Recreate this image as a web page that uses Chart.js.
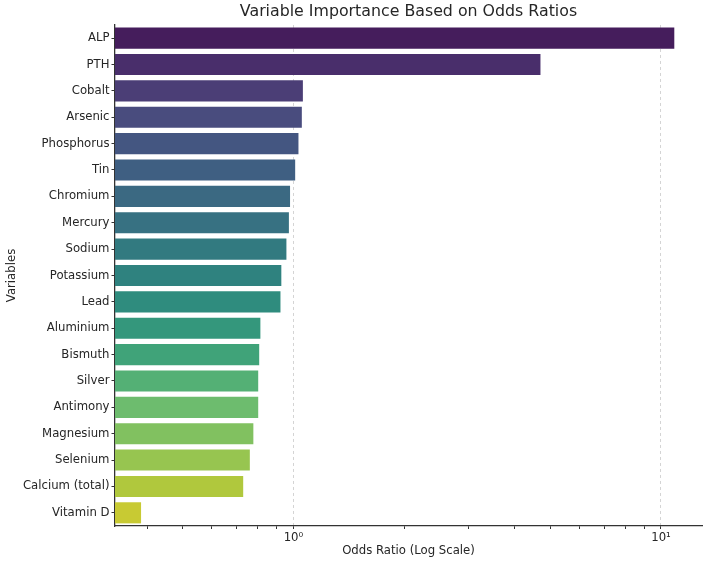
<!DOCTYPE html>
<html><head><meta charset="utf-8">
<script src="https://cdn.jsdelivr.net/npm/chart.js@4.4.0/dist/chart.umd.min.js"></script>
<style>html,body{margin:0;padding:0;background:#fff;}#wrap{width:706px;height:566px;}</style>
</head><body><div id="wrap"><canvas id="c" width="706" height="566"></canvas></div>
<script>
const categories = ["ALP","PTH","Cobalt","Arsenic","Phosphorus","Tin","Chromium","Mercury","Sodium","Potassium","Lead","Aluminium","Bismuth","Silver","Antimony","Magnesium","Selenium","Calcium (total)","Vitamin D"];
const oddsRatios = [10.87,4.70,1.061,1.054,1.032,1.011,0.979,0.972,0.957,0.927,0.922,0.813,0.807,0.802,0.802,0.778,0.761,0.730,0.385];
const xTickValues = [0.4,0.5,0.6,0.7,0.8,0.9,1,2,3,4,5,6,7,8,9,10];
const majorTicks = [1,10];
const majorTickLabels = ["10⁰","10¹"];

const viridisStops = ["#440154","#481568","#482677","#453781","#3F4788","#39558C","#32648E","#2D718E","#287D8E","#238A8D","#1F968B","#20A386","#29AF7F","#3CBC75","#56C667","#75D054","#95D840","#BADE28","#DDE318","#FDE725"];
function hexToRgb(h){return [1,3,5].map(i=>parseInt(h.substr(i,2),16)/255);}
function viridis(t){
  const n=viridisStops.length, p=t*(n-1);
  const i=Math.min(Math.floor(p),n-2), f=p-i;
  const a=hexToRgb(viridisStops[i]), b=hexToRgb(viridisStops[i+1]);
  return a.map((v,k)=>v+(b[k]-v)*f);
}
function desat(rgb,prop){
  const [r,g,b]=rgb, mx=Math.max(r,g,b), mn=Math.min(r,g,b), l=(mx+mn)/2;
  let h=0,s=0;
  if(mx!==mn){
    const d=mx-mn; s = l<=0.5 ? d/(mx+mn) : d/(2-mx-mn);
    const rc=(mx-r)/d, gc=(mx-g)/d, bc=(mx-b)/d;
    if(r===mx) h=bc-gc; else if(g===mx) h=2+rc-bc; else h=4+gc-rc;
    h=((h/6)%1+1)%1;
  }
  s*=prop;
  function v(m1,m2,hue){hue=((hue%1)+1)%1; if(hue<1/6) return m1+(m2-m1)*hue*6; if(hue<0.5) return m2; if(hue<2/3) return m1+(m2-m1)*(2/3-hue)*6; return m1;}
  let out;
  if(s===0) out=[l,l,l]; else { const m2 = l<=0.5? l*(1+s) : l+s-l*s; const m1=2*l-m2; out=[v(m1,m2,h+1/3),v(m1,m2,h),v(m1,m2,h-1/3)]; }
  return 'rgb('+out.map(x=>Math.round(x*255)).join(',')+')';
}
const barColors = categories.map((_,i)=>desat(viridis(Math.min(255,Math.floor((i+1)/(categories.length+1)*256))/255),0.75));

const FONT = "'DejaVu Sans', sans-serif";
const TXT = '#262626';

const centerTitle = {
  id:'centerTitle',
  afterLayout(chart){
    const tb = chart.titleBlock;
    if(tb){ tb.left = chart.chartArea.left; tb.right = chart.chartArea.right; }
  }
};

new Chart(document.getElementById('c'), {
  type:'bar',
  data:{ labels: categories, datasets:[{ data: oddsRatios, backgroundColor: barColors, borderWidth:0, categoryPercentage:0.8, barPercentage:1.0 }]},
  options:{
    indexAxis:'y',
    responsive:false,
    animation:false,
    layout:{ padding:{ left:0, right:4, top:0, bottom:0 } },
    plugins:{
      legend:{display:false},
      tooltip:{enabled:false},
      title:{ display:true, text:'Variable Importance Based on Odds Ratios', color:TXT, font:{family:FONT, size:15.8, weight:'normal'}, padding:{top:2,bottom:4} }
    },
    scales:{
      x:{
        type:'logarithmic', min:0.327, max:12.93, bounds:'data',
        afterBuildTicks(s){ s.ticks = xTickValues.map(v=>({value:v, major: majorTicks.includes(v)})); },
        afterFit(s){ s.height = 40; },
        ticks:{ autoSkip:false, maxRotation:0, color:TXT, font:{family:FONT,size:11.7}, padding:2,
          callback(v){ const i = majorTicks.indexOf(Number(v)); return i>=0 ? majorTickLabels[i] : ''; } },
        grid:{ display:true, drawOnChartArea:true, drawTicks:true, tickLength:3,
          color(ctx){ return ctx.tick && majorTicks.includes(ctx.tick.value) ? '#d4d4d4' : 'rgba(0,0,0,0)'; },
          tickColor:'#333', lineWidth:1 },
        border:{ display:true, color:'#333', width:1.3, dash:[3,3] },
        title:{ display:true, text:'Odds Ratio (Log Scale)', color:TXT, font:{family:FONT,size:11.7}, padding:{top:0,bottom:8} }
      },
      y:{
        afterFit(s){ s.width = 115; },
        ticks:{ color:TXT, font:{family:FONT,size:11.7}, padding:2, autoSkip:false },
        grid:{ display:true, drawOnChartArea:false, drawTicks:true, tickLength:3.5, tickColor:'#333', offset:false },
        border:{ display:true, color:'#333', width:1.3 },
        title:{ display:true, text:'Variables', color:TXT, font:{family:FONT,size:11.7}, padding:{top:5,bottom:0} }
      }
    }
  },
  plugins:[centerTitle]
});
</script>
</body></html>
